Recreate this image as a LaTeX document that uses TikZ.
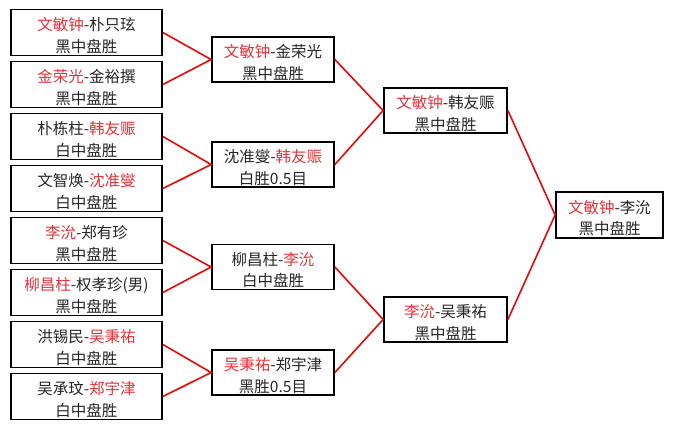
\documentclass[tikz,border=0pt]{standalone}
\usepackage{fontspec}
\setmainfont{Noto Sans CJK SC}
\definecolor{wr}{RGB}{228,50,58}
\definecolor{ln}{RGB}{232,8,8}
\newcommand{\rn}[1]{{\color{wr}#1}}
\tikzset{
  matchtxt/.style={inner sep=0pt, align=center, yshift=-3pt,
    font=\fontsize{15.5}{21.5}\selectfont, text=black!85},
  matchbox/.style={draw=black, line width=1.8pt, inner sep=0pt},
  c1/.style={matchbox, minimum width=151pt, minimum height=46pt},
  c2/.style={matchbox, minimum width=122pt, minimum height=45pt},
  c3/.style={matchbox, minimum width=123pt, minimum height=45pt},
  c4/.style={matchbox, minimum width=107pt, minimum height=46pt},
  link/.style={draw=ln, line width=1.6pt}
}
\begin{document}
\begin{tikzpicture}[x=1pt,y=-1pt]
\fill[white] (0,0) rectangle (673,429);
\useasboundingbox (0,0) rectangle (673,429);
% column 1
\node[c1, label={[matchtxt]center:{\rn{文敏钟}-朴只玹\\黑中盘胜}}] (a1) at (86.5,32.5) {};
\node[c1, label={[matchtxt]center:{\rn{金荣光}-金裕撰\\黑中盘胜}}] (a2) at (86.5,84.5) {};
\node[c1, label={[matchtxt]center:{朴栋柱-\rn{韩友赈}\\白中盘胜}}] (a3) at (86.5,136.5) {};
\node[c1, label={[matchtxt]center:{文智焕-\rn{沈准燮}\\白中盘胜}}] (a4) at (86.5,188.5) {};
\node[c1, label={[matchtxt]center:{\rn{李沇}-郑有珍\\黑中盘胜}}] (a5) at (86.5,240.5) {};
\node[c1, label={[matchtxt]center:{\rn{柳昌柱}-权孝珍(男)\\黑中盘胜}}] (a6) at (86.5,292.5) {};
\node[c1, label={[matchtxt]center:{洪锡民-\rn{吴秉祐}\\白中盘胜}}] (a7) at (86.5,344.5) {};
\node[c1, label={[matchtxt]center:{吴承玟-\rn{郑宇津}\\白中盘胜}}] (a8) at (86.5,396.5) {};
% column 2
\node[c2, label={[matchtxt]center:{\rn{文敏钟}-金荣光\\黑中盘胜}}] (b1) at (273,59.5) {};
\node[c2, label={[matchtxt]center:{沈准燮-\rn{韩友赈}\\白胜0.5目}}] (b2) at (273,164.5) {};
\node[c2, label={[matchtxt]center:{柳昌柱-\rn{李沇}\\白中盘胜}}] (b3) at (273,267) {};
\node[c2, label={[matchtxt]center:{\rn{吴秉祐}-郑宇津\\黑胜0.5目}}] (b4) at (273,372.5) {};
% column 3
\node[c3, label={[matchtxt]center:{\rn{文敏钟}-韩友赈\\黑中盘胜}}] (c1n) at (445.5,110.5) {};
\node[c3, label={[matchtxt]center:{\rn{李沇}-吴秉祐\\黑中盘胜}}] (c2n) at (445.5,319.5) {};
% column 4
\node[c4, label={[matchtxt]center:{\rn{文敏钟}-李沇\\黑中盘胜}}] (d1) at (609.5,215) {};
% connectors
\draw[link] (a1.east) -- (b1.west) -- (a2.east);
\draw[link] (a3.east) -- (b2.west) -- (a4.east);
\draw[link] (a5.east) -- (b3.west) -- (a6.east);
\draw[link] (a7.east) -- (b4.west) -- (a8.east);
\draw[link] (b1.east) -- (c1n.west) -- (b2.east);
\draw[link] (b3.east) -- (c2n.west) -- (b4.east);
\draw[link] (c1n.east) -- (d1.west) -- (c2n.east);
\end{tikzpicture}
\end{document}
